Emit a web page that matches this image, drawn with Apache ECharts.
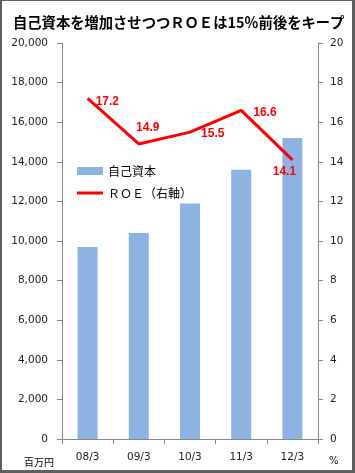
<!DOCTYPE html>
<html><head><meta charset="utf-8">
<script src="https://cdn.jsdelivr.net/npm/echarts@6/dist/echarts.min.js"></script>
<style>
html,body{margin:0;padding:0;background:#fff;}
#wrap{position:relative;width:355px;height:473px;}
#c{position:absolute;left:0;top:0;width:355px;height:473px;}
#frame{position:absolute;left:0;top:0;width:355px;height:473px;box-sizing:border-box;border-style:solid;border-color:#5f5f5f;border-width:1px 3px 3px 2px;pointer-events:none;}
</style></head>
<body><div id="wrap"><div id="c"></div><div id="frame"></div></div>
<script>
const categories = ['08/3','09/3','10/3','11/3','12/3'];
const equity = [9700, 10400, 11900, 13600, 15200];
const roe = [17.2, 14.9, 15.5, 16.6, 14.1];
const leftTicks = {min:0, max:20000, interval:2000};
const rightTicks = {min:0, max:20, interval:2};
const titleText = '自己資本を増加させつつＲＯＥは15％前後をキープ';
const seriesNames = ['自己資本', 'ＲＯＥ（右軸）'];

const labelPos = [
  {position:'right', distance:8, offset:[0,3]},
  {position:'top', distance:10, offset:[9,0]},
  {position:'right', distance:11, offset:[0,2]},
  {position:'right', distance:12, offset:[0,2]},
  {position:'bottom', distance:6, offset:[-8,0]}
];

const chart = echarts.init(document.getElementById('c'));
const axisCol = '#868686';
const lblFont = {fontFamily:'DejaVu Sans', fontSize:10.5, color:'#222'};
chart.setOption({
  animation:false,
  backgroundColor:'#fff',
  title:{text:titleText, left:8, top:10, textStyle:{fontFamily:'Noto Sans CJK JP', fontWeight:'bold', fontSize:14.3, color:'#000'}},
  grid:{left:62, right:37, top:43, bottom:34, containLabel:false},
  legend:{orient:'vertical', left:72, top:160, itemWidth:26, itemHeight:8, itemGap:10,
    textStyle:{fontFamily:'Noto Sans CJK JP', fontSize:12, color:'#000'},
    data:[{name:seriesNames[0], icon:'rect'}, {name:seriesNames[1], icon:'path://M0,0h26v3h-26z'}]},
  xAxis:{type:'category', data:categories,
    axisLine:{lineStyle:{color:axisCol}}, axisTick:{show:true, length:5, lineStyle:{color:axisCol}},
    axisLabel:Object.assign({margin:13}, lblFont)},
  yAxis:[
    {type:'value', min:leftTicks.min, max:leftTicks.max, interval:leftTicks.interval,
      axisLine:{show:true, lineStyle:{color:axisCol}}, axisTick:{show:true, length:5, lineStyle:{color:axisCol}},
      splitLine:{show:false},
      axisLabel:Object.assign({margin:14, formatter:v=>v.toLocaleString('en-US')}, lblFont)},
    {type:'value', min:rightTicks.min, max:rightTicks.max, interval:rightTicks.interval, position:'right',
      axisLine:{show:true, lineStyle:{color:axisCol}}, axisTick:{show:true, length:5, lineStyle:{color:axisCol}},
      splitLine:{show:false},
      axisLabel:Object.assign({margin:12}, lblFont)}
  ],
  series:[
    {name:seriesNames[0], type:'bar', data:equity, barWidth:20, itemStyle:{color:'#8DB3E2'}, yAxisIndex:0},
    {name:seriesNames[1], type:'line', yAxisIndex:1, symbol:'circle', symbolSize:0.1, showSymbol:true,
      lineStyle:{color:'#FF0000', width:3}, itemStyle:{color:'#FF0000'},
      data:roe.map((v,i)=>({value:v, label:Object.assign({show:true, color:'#FF0000', fontWeight:'bold', fontSize:12, fontFamily:'Liberation Sans'}, labelPos[i])}))}
  ],
  graphic:[
    {type:'text', left:24, top:457, style:{text:'百万円', fontFamily:'Noto Sans CJK JP', fontSize:10, fill:'#000'}},
    {type:'text', left:329, top:456, style:{text:'%', fontFamily:'DejaVu Sans', fontSize:10, fill:'#000'}}
  ]
});
</script></body></html>
